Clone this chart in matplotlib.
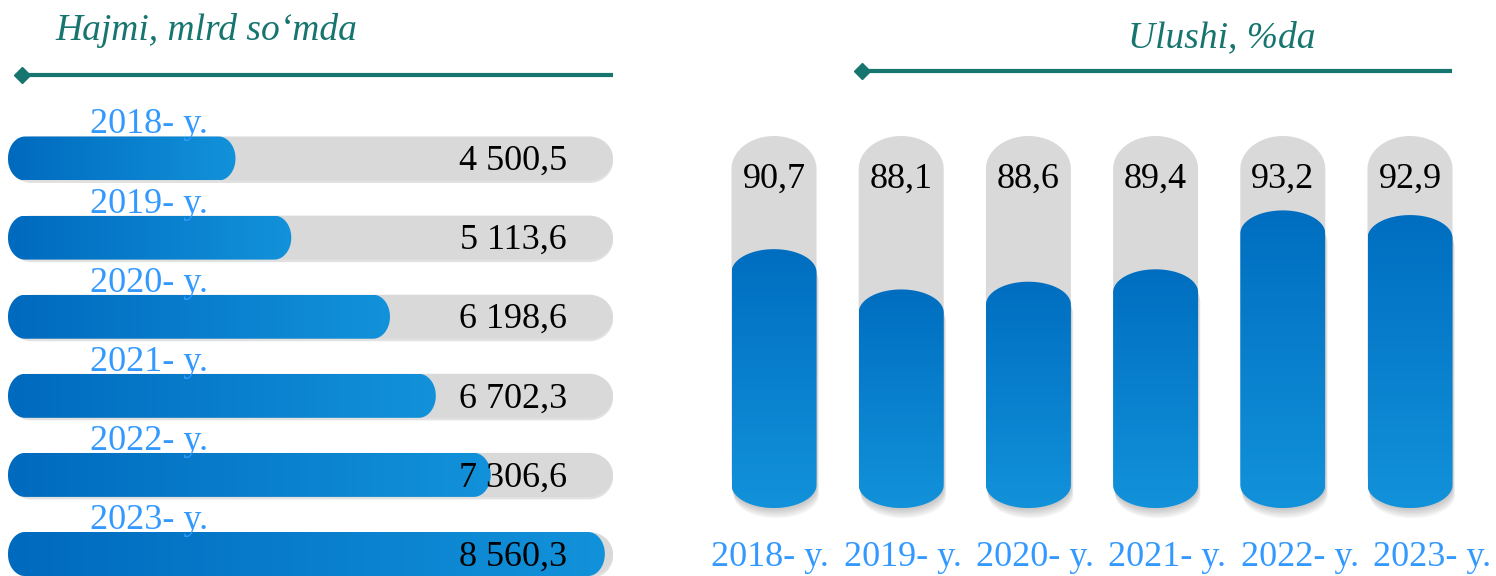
import matplotlib
matplotlib.use("Agg")
import numpy as np
import matplotlib.pyplot as plt
import matplotlib.transforms as mtransforms
from matplotlib.patches import Polygon
from matplotlib.colors import LinearSegmentedColormap

plt.rcParams['font.family'] = ['Liberation Serif', 'DejaVu Serif']

# --- data ---
years = ["2018- y.", "2019- y.", "2020- y.", "2021- y.", "2022- y.", "2023- y."]
volume = [4500.5, 5113.6, 6198.6, 6702.3, 7306.6, 8560.3]   # mlrd so'm
share = [90.7, 88.1, 88.6, 89.4, 93.2, 92.9]                # %

# --- colours ---
TEAL = "#17756F"
YEAR_C = "#3399FF"
GREY = "#D9D9D9"
cm_h = LinearSegmentedColormap.from_list("bh", ["#006ABE", "#1292DA"])
cm_v = LinearSegmentedColormap.from_list("bv", ["#1292DA", "#006EC0"])  # bottom -> top

W, H = 1496, 576
fig = plt.figure(figsize=(W / 100, H / 100), dpi=100)


def fmt(v):
    return f"{v:,.1f}".replace(",", " ").replace(".", ",")


def capsule(x, y, w, h, rx, ry, **kw):
    # box with elliptical corners, radii rx / ry in data units
    t = np.linspace(0, np.pi / 2, 24)
    pts = []
    for cx, cy, a0 in [(x + w - rx, y + h - ry, 0.0), (x + rx, y + h - ry, np.pi / 2),
                       (x + rx, y + ry, np.pi), (x + w - rx, y + ry, 1.5 * np.pi)]:
        a = a0 + t
        pts.append(np.column_stack([cx + rx * np.cos(a), cy + ry * np.sin(a)]))
    return Polygon(np.vstack(pts), closed=True, **kw)


def gradient_fill(ax, patch, extent, cmap, horizontal=True, z=3):
    ax.add_patch(patch)
    g = np.linspace(0, 1, 256)
    arr = g[None, :] if horizontal else g[:, None]
    im = ax.imshow(arr, extent=extent, cmap=cmap, aspect='auto',
                   origin='lower', zorder=z, interpolation='bicubic')
    im.set_clip_path(patch)


# ---------------- decoration layer (pixel coords) ----------------
ax_bg = fig.add_axes([0, 0, 1, 1])
ax_bg.set_xlim(0, W)
ax_bg.set_ylim(H, 0)
ax_bg.axis('off')

ax_bg.plot([22, 613], [75, 75], color=TEAL, lw=3, solid_capstyle='butt')
ax_bg.plot([22], [75], marker='D', ms=8, color=TEAL)
ax_bg.plot([862, 1452], [71, 71], color=TEAL, lw=3, solid_capstyle='butt')
ax_bg.plot([862], [71], marker='D', ms=8, color=TEAL)
ax_bg.text(55, 40, "Hajmi, mlrd so‘mda", fontsize=27, style='italic',
           color=TEAL, va='baseline', ha='left')
ax_bg.text(1128, 47, "Ulushi, %da", fontsize=27, style='italic',
           color=TEAL, va='baseline', ha='left')

# ---------------- left panel: volume ----------------
ax1 = fig.add_axes([8 / W, 0, 605 / W, 1])
ax1.axis('off')
ax1.patch.set_visible(False)
V0, V1 = 2000, 8650          # bar baseline and track end
ROW0, ROW_PX = 158.5, 79.1
x_per_px = (V1 - V0) / 605
bh = 44 / ROW_PX
ylim1 = ((H - ROW0) / ROW_PX, -ROW0 / ROW_PX)

bars = ax1.barh(range(len(volume)), [v - V0 for v in volume], left=V0,
                height=bh, color='none', edgecolor='none')
for i, rect in enumerate(bars):
    x, y, w, h = rect.get_x(), rect.get_y(), rect.get_width(), rect.get_height()
    # track shadow + track
    ax1.add_patch(capsule(V0, y + 2.5 / ROW_PX, V1 - V0, h, 24 * x_per_px, h / 2,
                          fc="#C4C4C4", ec='none', alpha=0.5, zorder=1))
    ax1.add_patch(capsule(V0, y, V1 - V0, h, 24 * x_per_px, h / 2,
                          fc=GREY, ec='none', zorder=2))
    p = capsule(x, y, w, h, 17 * x_per_px, h / 2, fc='none', ec='none', zorder=3)
    gradient_fill(ax1, p, (x, x + w, y + h, y), cm_h, horizontal=True)

tr1 = mtransforms.blended_transform_factory(ax1.transAxes, ax1.transData)
for i, (yr, v) in enumerate(zip(years, volume)):
    ax1.text((90 - 8) / 605, i - bh / 2 - 3 / ROW_PX, yr, transform=tr1,
             fontsize=26, color=YEAR_C, ha='left', va='baseline', zorder=5)
    ax1.text((567 - 8) / 605, i + 11.5 / ROW_PX, fmt(v), transform=tr1,
             fontsize=26, color='black', ha='right', va='baseline', zorder=5)
ax1.set_xlim(V0, V1)
ax1.set_ylim(*ylim1)

# ---------------- right panel: share ----------------
ax2 = fig.add_axes([700 / W, 0, 796 / W, 1])
ax2.axis('off')
ax2.patch.set_visible(False)
B, T = 74.0, 98.0            # bar baseline and track top
Y_PX = 15.5                   # px per percentage point
BOT_PX = 508
C0, STEP = 774, 127.2
bw = 85 / STEP
xlim2 = ((700 - C0) / STEP, (1496 - C0) / STEP)
ylim2 = (B - (H - BOT_PX) / Y_PX, B + BOT_PX / Y_PX)

bars2 = ax2.bar(range(len(share)), [s - B for s in share], bottom=B,
                width=bw, color='none', edgecolor='none')
for i, rect in enumerate(bars2):
    x, y, w, h = rect.get_x(), rect.get_y(), rect.get_width(), rect.get_height()
    rx = w / 2
    # grey track
    ax2.add_patch(capsule(x, B, w, T - B, rx, 33 / Y_PX, fc=GREY, ec='none', zorder=1))
    # soft shadow under the blue bar
    for k in range(1, 7):
        ax2.add_patch(capsule(x + 0.4 * k / STEP, y - 1.7 * k / Y_PX, w, h, rx, 23 / Y_PX,
                              fc="#404040", ec='none', alpha=0.05, zorder=2))
    p = capsule(x, y, w, h, rx, 23 / Y_PX, fc='none', ec='none', zorder=3)
    gradient_fill(ax2, p, (x, x + w, y, y + h), cm_v, horizontal=False)

tr2 = ax2.get_xaxis_transform()
LBL_STEP = 132.4 / STEP       # category labels are spaced a bit wider than the bars
for i, (yr, s) in enumerate(zip(years, share)):
    ax2.text(i, 1 - 188 / H, fmt(s), transform=tr2, fontsize=26,
             color='black', ha='center', va='baseline', zorder=5)
    ax2.text(i * LBL_STEP - 0.03, 1 - 566 / H, yr, transform=tr2, fontsize=26,
             color=YEAR_C, ha='center', va='baseline', zorder=5)
ax2.set_xlim(*xlim2)
ax2.set_ylim(*ylim2)

fig.savefig("out.png", dpi=100)
